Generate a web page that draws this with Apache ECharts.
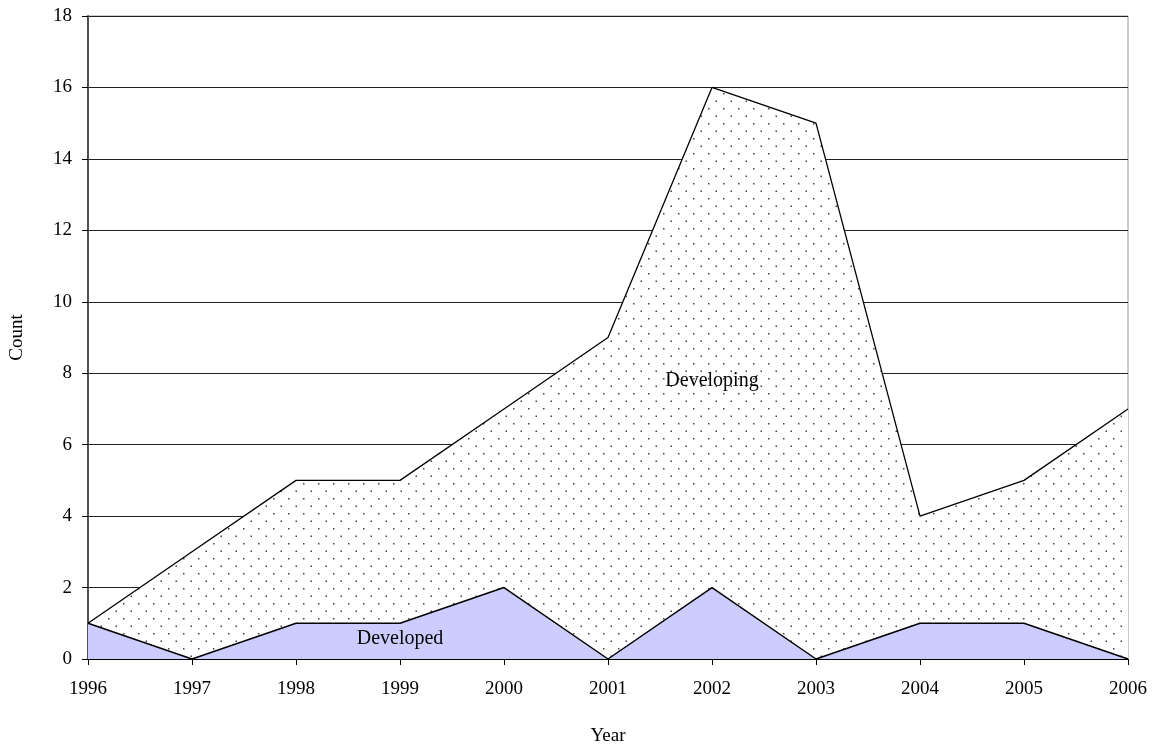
<!DOCTYPE html>
<html><head><meta charset="utf-8">
<script src="https://cdn.jsdelivr.net/npm/echarts@6/dist/echarts.min.js"></script>
<style>html,body{margin:0;padding:0;background:#fff}#c{width:1158px;height:751px}</style>
</head><body><div id="c"></div>
<script>
const years = ['1996','1997','1998','1999','2000','2001','2002','2003','2004','2005','2006'];
const developed = [1,0,1,1,2,0,2,0,1,1,0];
const developing = [0,3,4,4,5,9,14,15,3,4,7];
const yTicks = {min:0, max:18, interval:2};

const pat = document.createElement('canvas');
pat.width = 15; pat.height = 15;
const pc = pat.getContext('2d');
pc.fillStyle = '#fff'; pc.fillRect(0,0,15,15);
pc.fillStyle = '#444';
pc.fillRect(3,3,1.5,1.5);
pc.fillRect(10.5,10.5,1.5,1.5);

const font = 'Liberation Serif';
const chart = echarts.init(document.getElementById('c'));
chart.setOption({
  animation:false,
  textStyle:{fontFamily:font},
  grid:{left:79,right:30,top:16,bottom:79,show:true,borderColor:'#999',borderWidth:1,containLabel:false},
  xAxis:{type:'category',data:years,boundaryGap:false,name:'Year',nameLocation:'middle',nameGap:68,
    nameTextStyle:{fontFamily:font,fontSize:19,color:'#000'},
    axisLine:{lineStyle:{color:'#000',width:1.2}},
    axisTick:{show:true,length:6,lineStyle:{color:'#000'}},
    axisLabel:{fontFamily:font,fontSize:19,color:'#000',margin:21}},
  yAxis:{type:'value',min:yTicks.min,max:yTicks.max,interval:yTicks.interval,name:'Count',nameLocation:'middle',nameGap:61,
    nameTextStyle:{fontFamily:font,fontSize:19,color:'#000'},
    axisLine:{show:true,lineStyle:{color:'#444',width:1.8}},
    axisTick:{show:true,length:6,lineStyle:{color:'#000'}},
    axisLabel:{fontFamily:font,fontSize:19,color:'#000',margin:16},
    splitLine:{show:true,lineStyle:{color:'#222',width:1}}},
  series:[
    {name:'Developed',type:'line',stack:'t',data:developed,symbol:'none',
     lineStyle:{color:'#000',width:1.5},areaStyle:{color:'#ccccff',opacity:1}},
    {name:'Developing',type:'line',stack:'t',data:developing,symbol:'none',
     lineStyle:{color:'#000',width:1.3},areaStyle:{color:{image:pat,repeat:'repeat'},opacity:1}}
  ]
});
const p1 = chart.convertToPixel({xAxisIndex:0,yAxisIndex:0},[6,7.78]);
const p2 = chart.convertToPixel({xAxisIndex:0,yAxisIndex:0},[3.454,0.575]);
chart.setOption({graphic:[
  {type:'text',x:p1[0],y:p1[1],style:{text:'Developing',font:'20px "Liberation Serif"',fill:'#000',align:'center',verticalAlign:'middle'},z:100},
  {type:'text',x:p2[0],y:p2[1],style:{text:'Developed',font:'20px "Liberation Serif"',fill:'#000',align:'center',verticalAlign:'middle'},z:100}
]});
</script></body></html>
